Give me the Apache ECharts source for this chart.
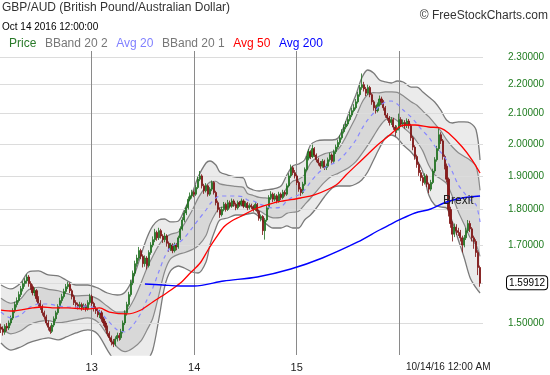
<!DOCTYPE html>
<html><head><meta charset="utf-8">
<script src="https://cdn.jsdelivr.net/npm/echarts@6/dist/echarts.min.js"></script>
<style>html,body{margin:0;padding:0;background:#fff}#chart{width:550px;height:375px}</style>
</head><body><div id="chart"></div>
<script>
// Weekly GBP/AUD candles (Feb 2012 - Oct 14 2016)
const opens=[1.490,1.485,1.478,1.492,1.488,1.500,1.512,1.530,1.545,1.555,
1.570,1.585,1.598,1.605,1.615,1.598,1.590,1.575,1.580,1.560,
1.548,1.540,1.525,1.515,1.500,1.490,1.480,1.495,1.510,1.525,
1.540,1.555,1.565,1.578,1.590,1.596,1.580,1.565,1.550,1.545,
1.540,1.545,1.538,1.542,1.535,1.550,1.565,1.548,1.535,1.530,
1.520,1.525,1.510,1.500,1.490,1.475,1.465,1.455,1.450,1.462,
1.470,1.465,1.480,1.500,1.525,1.545,1.570,1.600,1.625,1.650,
1.665,1.685,1.670,1.650,1.665,1.645,1.680,1.700,1.715,1.735,
1.720,1.740,1.725,1.715,1.725,1.705,1.690,1.700,1.685,1.700,
1.695,1.720,1.745,1.770,1.790,1.805,1.830,1.840,1.850,1.845,
1.865,1.890,1.900,1.870,1.855,1.870,1.845,1.860,1.880,1.850,
1.820,1.800,1.785,1.800,1.815,1.800,1.820,1.810,1.825,1.815,
1.805,1.820,1.815,1.825,1.810,1.818,1.805,1.812,1.808,1.800,
1.815,1.795,1.775,1.780,1.740,1.770,1.805,1.835,1.845,1.830,
1.840,1.825,1.845,1.835,1.850,1.845,1.870,1.900,1.925,1.910,
1.900,1.880,1.860,1.850,1.875,1.920,1.955,1.975,1.960,1.985,
1.965,1.950,1.940,1.930,1.945,1.925,1.930,1.950,1.965,1.945,
1.975,1.990,2.005,2.020,2.040,2.055,2.065,2.080,2.095,2.110,
2.120,2.140,2.165,2.190,2.200,2.185,2.170,2.190,2.165,2.140,
2.120,2.110,2.130,2.150,2.140,2.120,2.095,2.085,2.070,2.080,
2.055,2.045,2.050,2.080,2.065,2.070,2.060,2.075,2.060,2.020,
1.990,1.960,1.935,1.910,1.895,1.880,1.900,1.875,1.860,1.880,
1.915,1.950,1.985,2.030,2.010,1.960,1.930,1.890,1.800,1.760,
1.730,1.750,1.740,1.735,1.720,1.700,1.720,1.740,1.760,1.745,
1.720,1.710,1.680,1.640];
const closes=[1.485,1.478,1.492,1.488,1.500,1.512,1.530,1.545,1.555,1.570,
1.585,1.598,1.605,1.615,1.598,1.590,1.575,1.580,1.560,1.548,
1.540,1.525,1.515,1.500,1.490,1.480,1.495,1.510,1.525,1.540,
1.555,1.565,1.578,1.590,1.596,1.580,1.565,1.550,1.545,1.540,
1.545,1.538,1.542,1.535,1.550,1.565,1.548,1.535,1.530,1.520,
1.525,1.510,1.500,1.490,1.475,1.465,1.455,1.450,1.462,1.470,
1.465,1.480,1.500,1.525,1.545,1.570,1.600,1.625,1.650,1.665,
1.685,1.670,1.650,1.665,1.645,1.680,1.700,1.715,1.735,1.720,
1.740,1.725,1.715,1.725,1.705,1.690,1.700,1.685,1.700,1.695,
1.720,1.745,1.770,1.790,1.805,1.830,1.840,1.850,1.845,1.865,
1.890,1.900,1.870,1.855,1.870,1.845,1.860,1.880,1.850,1.820,
1.800,1.785,1.800,1.815,1.800,1.820,1.810,1.825,1.815,1.805,
1.820,1.815,1.825,1.810,1.818,1.805,1.812,1.808,1.800,1.815,
1.795,1.775,1.780,1.740,1.770,1.805,1.835,1.845,1.830,1.840,
1.825,1.845,1.835,1.850,1.845,1.870,1.900,1.925,1.910,1.900,
1.880,1.860,1.850,1.875,1.920,1.955,1.975,1.960,1.985,1.965,
1.950,1.940,1.930,1.945,1.925,1.930,1.950,1.965,1.945,1.975,
1.990,2.005,2.020,2.040,2.055,2.065,2.080,2.095,2.110,2.120,
2.140,2.165,2.190,2.200,2.185,2.170,2.190,2.165,2.140,2.120,
2.110,2.130,2.150,2.140,2.120,2.095,2.085,2.070,2.080,2.055,
2.045,2.050,2.080,2.065,2.070,2.060,2.075,2.060,2.020,1.990,
1.960,1.935,1.910,1.895,1.880,1.900,1.875,1.860,1.880,1.915,
1.950,1.985,2.030,2.010,1.960,1.930,1.890,1.800,1.760,1.730,
1.750,1.740,1.735,1.720,1.700,1.720,1.740,1.760,1.745,1.720,
1.710,1.680,1.640,1.59912];
const highs=[1.498,1.492,1.497,1.500,1.506,1.518,1.536,1.552,1.563,1.578,
1.592,1.604,1.612,1.622,1.620,1.604,1.596,1.588,1.584,1.566,
1.556,1.545,1.530,1.520,1.506,1.494,1.500,1.516,1.530,1.546,
1.562,1.572,1.585,1.597,1.603,1.600,1.585,1.570,1.556,1.550,
1.552,1.550,1.548,1.547,1.556,1.572,1.570,1.552,1.541,1.536,
1.532,1.530,1.515,1.505,1.494,1.480,1.470,1.462,1.468,1.477,
1.476,1.486,1.506,1.531,1.552,1.577,1.608,1.632,1.658,1.674,
1.695,1.690,1.675,1.672,1.670,1.686,1.708,1.724,1.745,1.740,
1.748,1.745,1.730,1.734,1.730,1.710,1.706,1.705,1.707,1.706,
1.726,1.752,1.778,1.798,1.814,1.838,1.850,1.858,1.856,1.872,
1.898,1.915,1.905,1.876,1.878,1.874,1.866,1.886,1.884,1.855,
1.826,1.806,1.808,1.822,1.820,1.828,1.826,1.832,1.830,1.820,
1.826,1.825,1.832,1.830,1.824,1.822,1.818,1.817,1.813,1.822,
1.819,1.800,1.786,1.784,1.776,1.812,1.842,1.854,1.850,1.848,
1.845,1.852,1.850,1.858,1.856,1.877,1.908,1.935,1.930,1.918,
1.905,1.886,1.866,1.882,1.926,1.962,1.984,1.980,1.998,1.990,
1.970,1.956,1.946,1.952,1.950,1.938,1.957,1.972,1.970,1.982,
1.998,2.014,2.028,2.048,2.064,2.075,2.090,2.105,2.120,2.132,
2.150,2.175,2.200,2.240,2.210,2.192,2.200,2.196,2.170,2.146,
2.128,2.138,2.162,2.158,2.146,2.126,2.102,2.092,2.088,2.086,
2.062,2.060,2.100,2.088,2.080,2.078,2.084,2.082,2.066,2.026,
1.996,1.966,1.942,1.918,1.902,1.908,1.905,1.880,1.888,1.922,
1.958,1.994,2.050,2.038,2.016,1.966,1.938,1.895,1.808,1.766,
1.760,1.758,1.748,1.742,1.726,1.728,1.748,1.770,1.768,1.750,
1.726,1.716,1.686,1.645];
const lows=[1.476,1.470,1.472,1.480,1.483,1.494,1.507,1.524,1.538,1.550,
1.564,1.578,1.590,1.598,1.590,1.582,1.568,1.566,1.552,1.540,
1.532,1.518,1.508,1.494,1.482,1.474,1.476,1.490,1.504,1.520,
1.535,1.548,1.560,1.572,1.584,1.574,1.558,1.544,1.538,1.533,
1.535,1.530,1.532,1.528,1.530,1.545,1.542,1.528,1.522,1.514,
1.512,1.503,1.493,1.482,1.468,1.458,1.447,1.443,1.445,1.456,
1.458,1.460,1.475,1.495,1.518,1.540,1.565,1.594,1.618,1.642,
1.658,1.662,1.640,1.642,1.635,1.640,1.674,1.694,1.708,1.712,
1.714,1.718,1.706,1.708,1.696,1.682,1.684,1.678,1.680,1.686,
1.690,1.714,1.740,1.764,1.784,1.800,1.824,1.832,1.836,1.840,
1.860,1.884,1.862,1.846,1.850,1.838,1.840,1.854,1.844,1.812,
1.792,1.776,1.780,1.795,1.794,1.796,1.803,1.805,1.808,1.798,
1.800,1.808,1.810,1.804,1.805,1.798,1.800,1.801,1.794,1.796,
1.788,1.768,1.766,1.728,1.715,1.765,1.800,1.828,1.822,1.824,
1.818,1.820,1.828,1.830,1.838,1.840,1.865,1.894,1.902,1.892,
1.872,1.852,1.840,1.845,1.870,1.914,1.948,1.952,1.955,1.958,
1.942,1.932,1.922,1.925,1.918,1.918,1.925,1.944,1.938,1.940,
1.968,1.984,1.998,2.014,2.034,2.048,2.058,2.074,2.088,2.104,
2.114,2.134,2.158,2.182,2.176,2.160,2.164,2.156,2.130,2.110,
2.100,2.104,2.124,2.130,2.110,2.086,2.076,2.060,2.062,2.046,
2.025,2.036,2.044,2.056,2.056,2.050,2.052,2.050,2.010,1.980,
1.950,1.925,1.900,1.884,1.870,1.874,1.866,1.848,1.854,1.875,
1.908,1.944,1.978,2.000,1.950,1.920,1.880,1.780,1.748,1.710,
1.722,1.728,1.725,1.710,1.680,1.694,1.714,1.734,1.736,1.710,
1.690,1.668,1.620,1.590];

// Indicator lines (week index, value)
const bandIdx=[0,5,10,14,19,24,29,33,38,44,49,54,59,63,67,71,74,77,80,83,
86,90,93,97,100,104,106,109,111,115,119,123,125,128,131,134,138,142,145,148,
151,154,157,160,164,168,171,174,177,180,183,186,189,192,195,198,201,204,208,211,
214,217,220,223,226,229,232,235,238,241,243];
const bbUpper2=[1.5945,1.5843,1.5996,1.6281,1.6308,1.6203,1.6177,1.6073,1.5945,1.5945,
1.5869,1.5741,1.5690,1.5767,1.6126,1.6732,1.7196,1.7531,1.7701,1.7729,
1.7644,1.7672,1.7987,1.8485,1.8966,1.9398,1.9461,1.9336,1.9119,1.9027,
1.8966,1.8936,1.8664,1.8574,1.8544,1.8574,1.8604,1.8694,1.9027,1.9305,
1.9367,1.9491,1.9967,2.0096,2.0128,2.0128,2.0193,2.0587,2.1123,2.1638,
2.2238,2.2525,2.2416,2.2166,2.2095,2.2059,2.2130,2.2095,2.1916,2.1916,
2.1742,2.1569,2.1396,2.1123,2.0787,2.0686,2.0720,2.0720,2.0686,2.0454,
1.9491];
const bbUpper1=[1.5607,1.5483,1.5595,1.5824,1.5887,1.5834,1.5797,1.5732,1.5668,1.5681,
1.5593,1.5407,1.5262,1.5276,1.5539,1.5988,1.6381,1.6700,1.6991,1.7204,
1.7297,1.7365,1.7592,1.7980,1.8334,1.8693,1.8811,1.8837,1.8758,1.8712,
1.8681,1.8652,1.8471,1.8412,1.8353,1.8339,1.8325,1.8384,1.8638,1.8836,
1.8897,1.9033,1.9391,1.9562,1.9686,1.9748,1.9827,2.0118,2.0497,2.0883,
2.1363,2.1656,2.1719,2.1713,2.1746,2.1745,2.1729,2.1609,2.1402,2.1285,
2.1082,2.0897,2.0666,2.0433,2.0139,1.9903,1.9722,1.9603,1.9482,1.9293,
1.8568];
const avg20=[1.5268,1.5122,1.5194,1.5367,1.5465,1.5465,1.5416,1.5391,1.5391,1.5416,
1.5316,1.5073,1.4833,1.4785,1.4952,1.5243,1.5565,1.5869,1.6281,1.6679,
1.6949,1.7058,1.7196,1.7474,1.7701,1.7987,1.8161,1.8337,1.8396,1.8396,
1.8396,1.8367,1.8278,1.8249,1.8161,1.8103,1.8045,1.8074,1.8249,1.8367,
1.8426,1.8574,1.8814,1.9027,1.9243,1.9367,1.9461,1.9649,1.9871,2.0128,
2.0488,2.0787,2.1021,2.1259,2.1396,2.1430,2.1327,2.1123,2.0887,2.0653,
2.0422,2.0225,1.9935,1.9743,1.9491,1.9119,1.8724,1.8485,1.8278,1.8132,
1.7644];
const bbLower1=[1.4897,1.4742,1.4813,1.4947,1.5031,1.5055,1.5007,1.5029,1.5076,1.5125,
1.5027,1.4718,1.4427,1.4325,1.4409,1.4577,1.4827,1.5116,1.5677,1.6287,
1.6629,1.6749,1.6791,1.6878,1.6978,1.7266,1.7583,1.7906,1.8049,1.8077,
1.8120,1.8105,1.8075,1.8075,1.7974,1.7859,1.7760,1.7774,1.7890,1.7921,
1.7950,1.8138,1.8329,1.8536,1.8805,1.9001,1.9078,1.9172,1.9283,1.9441,
1.9682,1.9953,2.0256,2.0565,2.0795,2.0861,2.0760,2.0545,2.0315,2.0072,
1.9771,1.9326,1.9034,1.8909,1.8768,1.8382,1.7933,1.7569,1.7202,1.7001,
1.6693];
const bbLower2=[1.4526,1.4362,1.4432,1.4526,1.4597,1.4644,1.4597,1.4667,1.4761,1.4833,
1.4738,1.4362,1.4021,1.3865,1.3865,1.3910,1.4089,1.4362,1.5073,1.5894,
1.6308,1.6439,1.6386,1.6281,1.6255,1.6545,1.7004,1.7474,1.7701,1.7757,
1.7843,1.7843,1.7871,1.7900,1.7786,1.7615,1.7474,1.7474,1.7531,1.7474,
1.7474,1.7701,1.7843,1.8045,1.8367,1.8634,1.8694,1.8694,1.8694,1.8754,
1.8875,1.9119,1.9491,1.9871,2.0193,2.0291,2.0193,1.9967,1.9743,1.9491,
1.9119,1.8426,1.8132,1.8074,1.8045,1.7644,1.7141,1.6652,1.6126,1.5869,
1.5741];
const ma50Idx=[0,6,16,21,26,34,44,50,55,64,71,77,84,91,96,101,105,109,113,117,
121,130,138,143,152,159,170,175,183,191,196,202,205,210,217,223,227,234,239,243];
const avg50=[1.5316,1.5292,1.5367,1.5391,1.5367,1.5367,1.5341,1.5367,1.5267,1.5219,
1.5316,1.5515,1.5741,1.5996,1.6255,1.6518,1.6867,1.7196,1.7502,1.7672,
1.7786,1.8045,1.8190,1.8249,1.8337,1.8426,1.8724,1.9027,1.9491,1.9967,
2.0225,2.0553,2.0619,2.0619,2.0553,2.0520,2.0356,1.9903,1.9491,1.9088];
const ma200Idx=[73,82,91,98,113,130,147,163,181,192,197,202,210,218,226,234,243];
const avg200=[1.5970,1.5945,1.5920,1.5920,1.6047,1.6151,1.6360,1.6652,1.7086,1.7418,
1.7559,1.7701,1.7900,1.8016,1.8220,1.8337,1.8396];

// Axes
const yTicks=[1.5,1.6,1.7,1.8,1.9,2.0,2.1,2.2,2.3];
const yearLineIdx=[46,98,150,202];
const yearTickIdx=[46,98,150];
const yearTickLabels=['13','14','15'];
const hoverDateLabel='10/14/16 12:00 AM';
const brexitMark={label:'Brexit', week:232, value:1.825};

const N=245;
const F='"Liberation Sans", Arial, sans-serif';
const categories=Array.from({length:N},(_,i)=>String(i));
const candleData=closes.map((c,i)=>[opens[i],c,lows[i],highs[i]]);
const pairs=(idx,vals)=>idx.map((x,k)=>[x,vals[k]]);
const diffs=(idx,hi,lo)=>idx.map((x,k)=>[x,+(hi[k]-lo[k]).toFixed(5)]);
const lastClose=closes[closes.length-1];

const chart=echarts.init(document.getElementById('chart'),null,{renderer:'canvas'});
const edge2={color:'#7a7a7a',width:1.3};
const edge1={color:'#8a8a8a',width:1.2};
const sm=0.3;
const gridLines=yTicks.map(v=>Math.abs(v-lastClose)<0.02
  ?{yAxis:v,label:{show:false}}
  :{yAxis:v,label:{formatter:v.toFixed(5)}});
const yearLines=yearLineIdx.map(i=>({xAxis:i,lineStyle:{color:'#8a8a8a',width:1,type:'solid'},label:{show:false}}));
chart.setOption({
  animation:false,
  backgroundColor:'#fff',
  title:[
    {text:'GBP/AUD (British Pound/Australian Dollar)',left:2,top:2,padding:0,itemGap:8,
     textStyle:{fontSize:12,fontWeight:'normal',color:'#333',fontFamily:F},
     subtext:'Oct 14 2016 12:00:00',subtextStyle:{fontSize:10,color:'#000',fontFamily:F}},
    {text:'\u00A9 FreeStockCharts.com',right:2,top:10,padding:0,
     textStyle:{fontSize:12,fontWeight:'normal',color:'#333',fontFamily:F}}
  ],
  legend:{left:3,top:36,padding:0,itemWidth:0,itemHeight:14,itemGap:-2,selectedMode:false,
    itemStyle:{opacity:0},lineStyle:{opacity:0},
    textStyle:{fontSize:12,fontFamily:F,padding:0},
    data:[{name:'Price',textStyle:{color:'#2a7a2a'}},
          {name:'BBand 20 2',textStyle:{color:'#777'}},
          {name:'Avg 20',textStyle:{color:'#8080ff'}},
          {name:'BBand 20 1',textStyle:{color:'#777'}},
          {name:'Avg 50',textStyle:{color:'#ff0000'}},
          {name:'Avg 200',textStyle:{color:'#0000ff'}}]},
  grid:{left:0,right:67,top:51,bottom:20,containLabel:false},
  xAxis:{type:'category',data:categories,boundaryGap:true,
    axisLine:{show:false},axisTick:{show:false},splitLine:{show:false},
    axisLabel:{interval:(i)=>yearTickIdx.includes(i),margin:7,fontSize:11,color:'#222',fontFamily:F,
      formatter:(v)=>{const k=yearTickIdx.indexOf(Number(v));return k>=0?yearTickLabels[k]:'';}}},
  yAxis:{type:'log',logBase:10,min:1.4248,max:2.3223,
    axisLine:{show:false},axisTick:{show:false},axisLabel:{show:false},splitLine:{show:false}},
  series:[
    {name:'BBand 20 2',type:'line',stack:'bb2',data:pairs(bandIdx,bbLower2),smooth:sm,symbol:'none',
     lineStyle:edge2,z:1,silent:true,
     markLine:{silent:true,z:2,symbol:['none','none'],animation:false,
       lineStyle:{color:'#dcdcdc',width:1,type:'solid'},
       emphasis:{disabled:true},
       label:{show:true,position:'end',distance:25,color:'#1e7b1e',fontSize:10,fontFamily:F},
       data:gridLines.concat(yearLines)}},
    {name:'BBand 20 2',type:'line',stack:'bb2',data:diffs(bandIdx,bbUpper2,bbLower2),smooth:sm,symbol:'none',
     lineStyle:edge2,areaStyle:{color:'rgba(0,0,0,0.11)'},z:1,silent:true},
    {name:'BBand 20 1',type:'line',stack:'bb1',data:pairs(bandIdx,bbLower1),smooth:sm,symbol:'none',
     lineStyle:edge1,z:1,silent:true},
    {name:'BBand 20 1',type:'line',stack:'bb1',data:diffs(bandIdx,bbUpper1,bbLower1),smooth:sm,symbol:'none',
     lineStyle:edge1,areaStyle:{color:'rgba(0,0,0,0.11)'},z:1,silent:true},
    {name:'Price',type:'candlestick',data:candleData,barWidth:'80%',z:3,silent:true,
     itemStyle:{color:'#2f8f2f',color0:'#8b1a1a',borderColor:'#1d6b1d',borderColor0:'#7a0f0f',borderWidth:0.8},
     markLine:{silent:true,z:6,symbol:['none','none'],animation:false,
       lineStyle:{color:'rgba(0,0,0,0)',width:1},emphasis:{disabled:true},
       label:{show:true,position:'end',distance:24,color:'#000',fontSize:10,fontFamily:F,
         backgroundColor:'#fff',borderColor:'#000',borderWidth:1,borderRadius:3,padding:[2,2,1,2],
         formatter:lastClose.toFixed(5)},
       data:[{yAxis:lastClose}]},
     markPoint:{silent:true,symbol:'rect',symbolSize:1,itemStyle:{color:'rgba(0,0,0,0)'},
       label:{show:true,position:'inside',color:'#222',fontSize:12,fontFamily:F,formatter:brexitMark.label},
       data:[{coord:[brexitMark.week,brexitMark.value]}]}},
    {name:'Avg 20',type:'line',data:pairs(bandIdx,avg20),smooth:sm,symbol:'none',z:4,silent:true,
     lineStyle:{color:'#8888ff',width:1.2,type:[4,4]}},
    {name:'Avg 50',type:'line',data:pairs(ma50Idx,avg50),smooth:sm,symbol:'none',z:4,silent:true,
     lineStyle:{color:'#ff0000',width:1.3}},
    {name:'Avg 200',type:'line',data:pairs(ma200Idx,avg200),smooth:sm,symbol:'none',z:4,silent:true,
     lineStyle:{color:'#0000ff',width:1.4}}
  ],
  graphic:[{type:'text',left:406,top:362,silent:true,
    style:{text:hoverDateLabel,fontSize:10,fontFamily:F,fill:'#222'}}]
});
</script>
</body></html>
